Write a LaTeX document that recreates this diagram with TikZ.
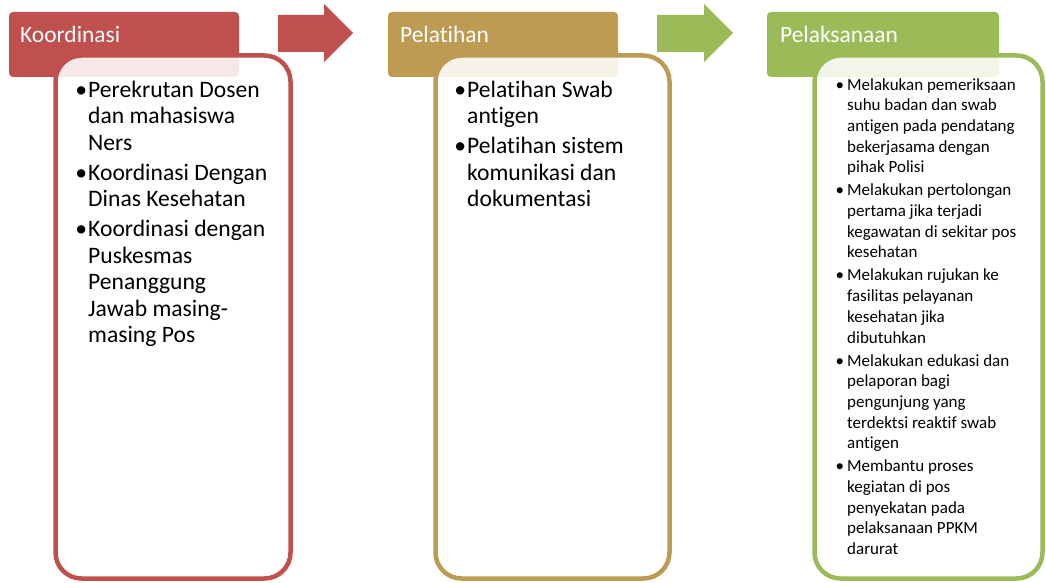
\documentclass[tikz,border=0pt]{standalone}
\usepackage{fontspec}
\setmainfont{Carlito}[RawFeature={-liga;-clig;-dlig;-calt}]
\usepackage{tikz}
\usetikzlibrary{positioning}
\definecolor{merah}{HTML}{C0504D}
\definecolor{emas}{HTML}{BE9B53}
\definecolor{hijau}{HTML}{9BBB59}
\tikzset{
  judul/.style={anchor=north west, rounded corners=4pt, minimum width=230pt, minimum height=65pt, inner sep=0pt, outer sep=0pt},
  judultxt/.style={anchor=base west, text=white, inner sep=0pt, font=\fontsize{23.4}{26}\selectfont},
  isi/.style={anchor=north west, rounded corners=26pt, line width=4.5pt, fill=white, fill opacity=0.87, minimum width=235pt, minimum height=523pt, inner sep=0pt, outer sep=0pt},
  poin/.style={anchor=north west, align=left, inner sep=0pt, font=\fontsize{23.6}{26.5}\selectfont},
  poinkecil/.style={poin, font=\fontsize{17}{20.7}\selectfont}
}
\newcommand{\bt}{\llap{\textbullet\hspace{1pt}}}
\newcommand{\bk}{\llap{\textbullet\hspace{3pt}}}

\begin{document}
\begin{tikzpicture}[x=1pt,y=-1pt]
\useasboundingbox (0,0) rectangle (1046,583);

\node[judul, fill=merah] (h1) at (9,12) {};
\node[judul, fill=emas] (h2) at (388,12) {};
\node[judul, fill=hijau, minimum width=232pt] (h3) at (767,12) {};

\node[isi, draw=merah] (b1) at (55.5,55.5) {};
\node[isi, draw=emas, minimum width=234pt] (b2) at (435.5,55.5) {};
\node[isi, draw=hijau, minimum width=228pt] (b3) at (814.5,55.5) {};

\fill[merah] (278,15) -- (324,15) -- (324,4) -- (353,33) -- (324,62) -- (324,52) -- (278,52) -- cycle;
\fill[hijau] (657,15) -- (704,15) -- (704,4) -- (733,33) -- (704,62) -- (704,52) -- (657,52) -- cycle;

\node[judultxt] (t1) at ([xshift=11pt,yshift=-31pt]h1.north west) {Koordinasi};
\node[judultxt] (t2) at ([xshift=12pt,yshift=-31pt]h2.north west) {Pelatihan};
\node[judultxt] (t3) at ([xshift=13pt,yshift=-31pt]h3.north west) {Pelaksanaan};

\node[poin] (p1) at (88,80.5) {\bt Perekrutan Dosen\\dan mahasiswa\\Ners\\[3.5pt]
  \bt Koordinasi Dengan\\Dinas Kesehatan\\[3.5pt]
  \bt Koordinasi dengan\\Puskesmas\\Penanggung\\Jawab masing-\\masing Pos};
\node[poin] (p2) at (467,80.5) {\bt Pelatihan Swab\\antigen\\[3.5pt]
  \bt Pelatihan sistem\\komunikasi dan\\dokumentasi};
\node[poinkecil] (p3) at (847,78) {\bk Melakukan pemeriksaan\\suhu badan dan swab\\antigen pada pendatang\\bekerjasama dengan\\pihak Polisi\\[2.3pt]
  \bk Melakukan pertolongan\\pertama jika terjadi\\kegawatan di sekitar pos\\kesehatan\\[2.3pt]
  \bk Melakukan rujukan ke\\fasilitas pelayanan\\kesehatan jika\\dibutuhkan\\[2.3pt]
  \bk Melakukan edukasi dan\\pelaporan bagi\\pengunjung yang\\terdektsi reaktif swab\\antigen\\[2.3pt]
  \bk Membantu proses\\kegiatan di pos\\penyekatan pada\\pelaksanaan PPKM\\darurat};

\end{tikzpicture}
\end{document}
